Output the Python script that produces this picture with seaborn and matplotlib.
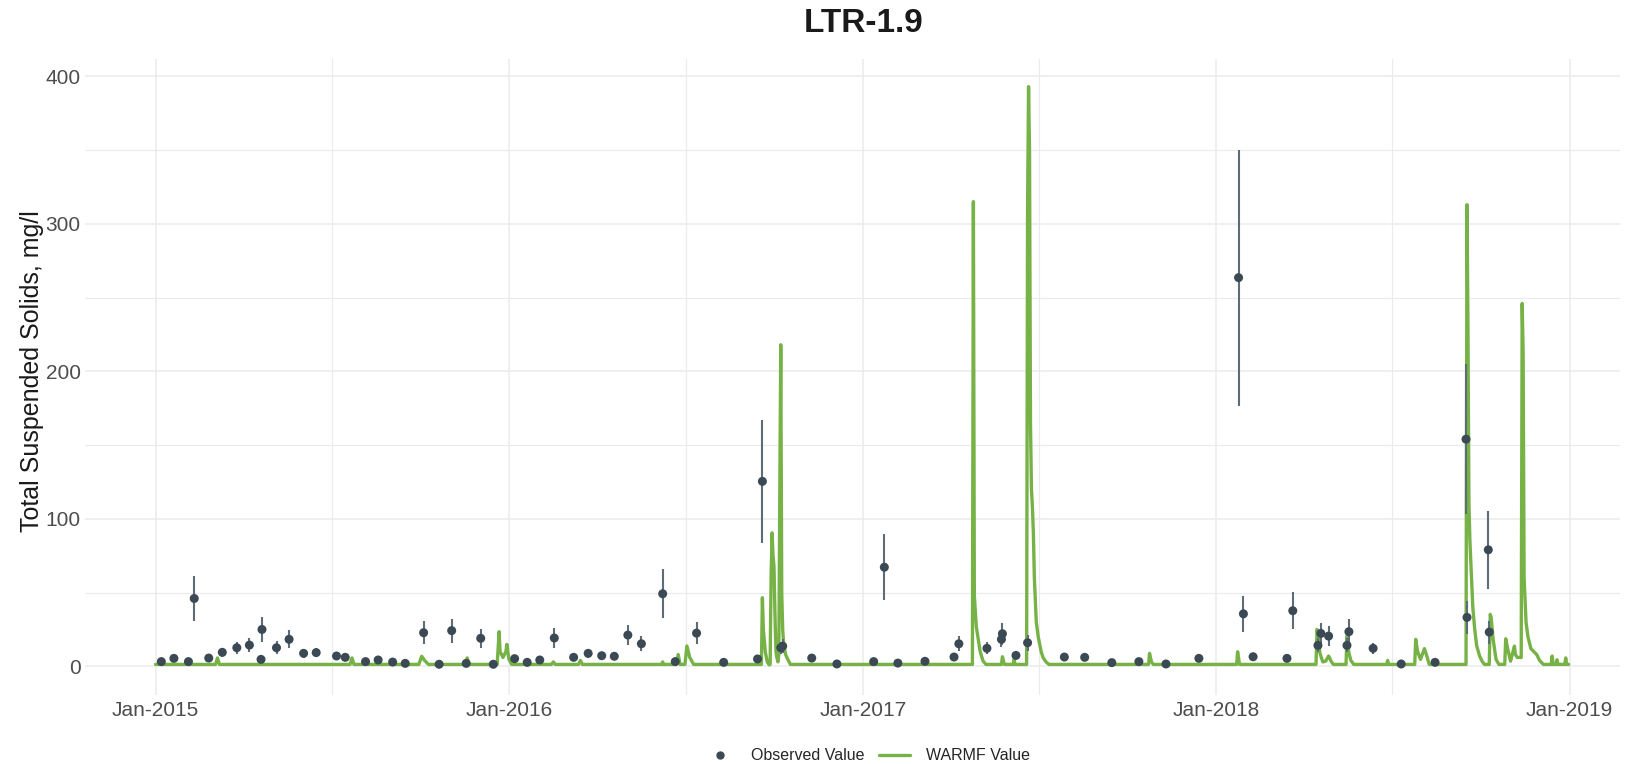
import matplotlib
matplotlib.use("Agg")
import matplotlib.pyplot as plt
import matplotlib.dates as mdates
from matplotlib.lines import Line2D
import pandas as pd
import seaborn as sns

# ---- observed samples (date, value, half-width of the uncertainty bar) ----
obs_dates = [
    "2015-01-07", "2015-01-20", "2015-02-04", "2015-02-10", "2015-02-25", "2015-03-11",
    "2015-03-26", "2015-04-08", "2015-04-21", "2015-04-20", "2015-05-06", "2015-05-19",
    "2015-06-03", "2015-06-16", "2015-07-07", "2015-07-16", "2015-08-06", "2015-08-19",
    "2015-09-03", "2015-09-16", "2015-10-05", "2015-10-21", "2015-11-03", "2015-11-18",
    "2015-12-03", "2015-12-16",
    "2016-01-07", "2016-01-20", "2016-02-02", "2016-02-17", "2016-03-08", "2016-03-23",
    "2016-04-06", "2016-04-19", "2016-05-03", "2016-05-17", "2016-06-08", "2016-06-21",
    "2016-07-13", "2016-08-10", "2016-09-14", "2016-09-19", "2016-10-08", "2016-10-10",
    "2016-11-09", "2016-12-05",
    "2017-01-12", "2017-01-23", "2017-02-06", "2017-03-06", "2017-04-05", "2017-04-10",
    "2017-05-09", "2017-05-24", "2017-05-25", "2017-06-08", "2017-06-20", "2017-07-28",
    "2017-08-18", "2017-09-15", "2017-10-13", "2017-11-10", "2017-12-14",
    "2018-01-24", "2018-01-29", "2018-02-08", "2018-03-15", "2018-03-21", "2018-04-16",
    "2018-04-19", "2018-04-27", "2018-05-16", "2018-05-18", "2018-06-12", "2018-07-11",
    "2018-08-15", "2018-09-16", "2018-09-17", "2018-10-09", "2018-10-10",
]
obs_values = [
    3.2, 5.4, 3.2, 46, 5.6, 9.5, 12.6, 14.4, 25, 4.7, 12.6, 18.3, 8.8, 9.3, 7, 6.1,
    3.2, 4.3, 2.9, 2.0, 22.8, 1.4, 24.2, 2.0, 19, 1.4,
    5.2, 2.7, 4.3, 19.2, 6.1, 8.8, 7.2, 6.8, 21.2, 15.3, 49.2, 3.2, 22.5, 2.7, 5,
    125.4, 12.6, 13.7, 5.6, 1.6,
    3.2, 67.2, 2.2, 3.4, 6.3, 15.3, 12.2, 18.3, 22.1, 7.4, 16, 6.3, 6.1, 2.5, 3.2, 1.6, 5.4,
    263.5, 35.6, 6.5, 5.4, 37.7, 14.2, 22.3, 20.5, 14.2, 23.5, 12.2, 1.6, 2.7, 154, 33.2, 79, 23.2,
]
obs_err = [
    1.1, 1.8, 1.1, 15.5, 1.9, 3, 4.2, 4.8, 8.5, 1.6, 4.3, 6.2, 3, 3.1, 2.3, 2,
    1.1, 1.4, 1, 0.7, 7.7, 0.5, 8.2, 0.7, 6.4, 0.5,
    1.7, 0.9, 1.4, 6.5, 2, 2.9, 2.4, 2.3, 7, 5, 16.5, 1.1, 7.5, 0.9, 1.7,
    41.5, 4.2, 4.6, 1.9, 0.5,
    1.1, 22.2, 0.7, 1.1, 2.1, 5, 4, 5, 7.5, 2.5, 5.5, 2.1, 2, 0.8, 1.1, 0.5, 1.8,
    86.7, 12, 2.2, 1.8, 12.6, 4.7, 7.3, 6.8, 4.7, 8.3, 3.7, 0.5, 0.9, 51, 11, 26.5, 7.8,
]

# ---- WARMF simulated series (vertices of the daily trace) ----
warmf_dates = [
    "2015-01-01",
    "2015-03-04", "2015-03-06", "2015-03-08",
    "2015-07-21", "2015-07-23", "2015-07-25",
    "2015-09-30", "2015-10-03", "2015-10-06", "2015-10-10",
    "2015-11-17", "2015-11-19", "2015-11-21",
    "2015-12-20", "2015-12-22", "2015-12-23", "2015-12-26", "2015-12-29", "2015-12-30",
    "2016-01-01", "2016-01-04",
    "2016-02-14", "2016-02-16", "2016-02-18",
    "2016-03-13", "2016-03-15", "2016-03-17",
    "2016-06-07", "2016-06-08", "2016-06-09",
    "2016-06-22", "2016-06-24", "2016-06-26",
    "2016-07-01", "2016-07-03", "2016-07-06", "2016-07-10",
    "2016-09-18", "2016-09-19", "2016-09-20", "2016-09-22", "2016-09-24", "2016-09-26",
    "2016-09-27", "2016-09-28", "2016-09-29", "2016-09-30", "2016-10-01", "2016-10-02",
    "2016-10-03", "2016-10-04", "2016-10-05", "2016-10-06", "2016-10-07", "2016-10-08",
    "2016-10-09", "2016-10-10", "2016-10-11", "2016-10-13", "2016-10-15", "2016-10-18",
    "2017-04-24", "2017-04-25", "2017-04-26", "2017-04-28", "2017-05-02", "2017-05-05",
    "2017-05-08",
    "2017-05-24", "2017-05-25", "2017-05-27",
    "2017-06-05", "2017-06-06", "2017-06-07",
    "2017-06-19", "2017-06-20", "2017-06-21", "2017-06-22", "2017-06-23", "2017-06-24",
    "2017-06-25", "2017-06-26", "2017-06-27", "2017-06-29", "2017-07-01", "2017-07-04",
    "2017-07-06", "2017-07-09", "2017-07-12",
    "2017-10-23", "2017-10-24", "2017-10-26", "2017-10-28",
    "2018-01-22", "2018-01-23", "2018-01-25",
    "2018-04-14", "2018-04-15", "2018-04-16", "2018-04-18", "2018-04-21", "2018-04-24",
    "2018-04-27", "2018-04-30", "2018-05-02",
    "2018-05-15", "2018-05-16", "2018-05-18", "2018-05-20", "2018-05-23",
    "2018-06-26", "2018-06-27", "2018-06-28",
    "2018-07-25", "2018-07-26", "2018-07-28", "2018-07-31", "2018-08-04", "2018-08-06",
    "2018-08-09",
    "2018-09-16", "2018-09-17", "2018-09-18", "2018-09-19", "2018-09-20", "2018-09-21",
    "2018-09-23", "2018-09-25", "2018-09-27", "2018-09-30", "2018-10-03", "2018-10-05",
    "2018-10-10", "2018-10-11", "2018-10-12", "2018-10-14", "2018-10-17", "2018-10-20",
    "2018-10-26", "2018-10-27", "2018-10-29", "2018-11-01", "2018-11-05", "2018-11-06",
    "2018-11-08", "2018-11-12", "2018-11-13", "2018-11-14", "2018-11-15", "2018-11-17",
    "2018-11-19", "2018-11-22", "2018-11-25", "2018-11-28", "2018-12-01", "2018-12-05",
    "2018-12-13", "2018-12-14", "2018-12-15",
    "2018-12-18", "2018-12-19", "2018-12-20",
    "2018-12-27", "2018-12-28", "2018-12-29", "2018-12-31",
]
warmf_values = [
    1.3,
    1.3, 5.7, 1.3,
    1.3, 5.7, 1.3,
    1.3, 6.8, 4.0, 1.3,
    1.3, 5.7, 1.3,
    1.3, 23.5, 10, 6, 10, 14.9,
    5, 1.3,
    1.3, 3, 1.3,
    1.3, 4, 1.3,
    1.3, 3, 1.3,
    1.3, 8, 1.3,
    1.3, 13.8, 6, 1.3,
    1.3, 46.5, 25, 10, 3, 1.0,
    1.3, 61, 90.5, 75, 68, 35,
    10, 6, 3, 8, 120, 218,
    50, 25, 15, 8, 5, 1.3,
    1.3, 315, 48, 27, 10, 3.6,
    1.3,
    1.3, 6.5, 1.3,
    1.3, 4.7, 1.3,
    1.3, 312, 393, 350, 165, 120,
    108, 90, 60, 30, 20, 10,
    6, 3, 1.3,
    1.3, 8.8, 3, 1.3,
    1.3, 9.9, 1.3,
    1.3, 25, 22, 9, 3, 3.5,
    7, 3, 1.3,
    1.3, 20.5, 9, 4, 1.3,
    1.3, 4, 1.3,
    1.3, 18.3, 10, 4.7, 12, 8,
    1.3,
    1.3, 313, 228, 110, 85, 70,
    40, 25, 14, 7, 3, 1.3,
    1.3, 35.2, 33, 18.3, 4.7, 1.3,
    1.3, 18.7, 12, 3.5, 13.7, 8,
    6, 6, 246, 212, 60, 30,
    20, 12, 10, 8, 4, 1.3,
    1.3, 7, 1.3,
    1.3, 4.5, 1.3,
    1.3, 5.7, 1.3, 1.3,
]

year_ticks = ["2015-01-01", "2016-01-01", "2017-01-01", "2018-01-01", "2019-01-01"]
mid_year_ticks = ["2015-07-02", "2016-07-02", "2017-07-02", "2018-07-02"]
y_ticks = [0, 100, 200, 300, 400]
y_minor_ticks = [50, 150, 250, 350]

GREEN = "#77b246"
POINT = "#3b4954"
BAR = "#5e6c76"
GRID = "#ebebeb"

obs = pd.DataFrame({"date": pd.to_datetime(obs_dates), "value": obs_values, "err": obs_err})
sim = pd.DataFrame({"date": pd.to_datetime(warmf_dates), "value": warmf_values})

sns.set_theme(style="white")
plt.rcParams["font.family"] = ["Liberation Sans", "DejaVu Sans"]

fig = plt.figure(figsize=(16.32, 7.64), dpi=100)
ax = fig.add_axes([0.052, 0.090, 0.9406, 0.8325])

sns.lineplot(data=sim, x="date", y="value", ax=ax, color=GREEN, linewidth=2.4,
             sort=True, estimator=None, zorder=2, legend=False)
ax.errorbar(obs["date"], obs["value"], yerr=obs["err"], fmt="none",
            ecolor=BAR, elinewidth=1.5, capsize=0, zorder=3)
sns.scatterplot(data=obs, x="date", y="value", ax=ax, color=POINT, s=42,
                edgecolor="none", zorder=4, legend=False)

ax.set_xlim(pd.Timestamp("2014-10-20"), pd.Timestamp("2019-02-22"))
ax.set_ylim(-19.6, 411.6)

ax.set_xticks(pd.to_datetime(year_ticks))
ax.xaxis.set_major_formatter(mdates.DateFormatter("%b-%Y"))
ax.set_xticks(pd.to_datetime(mid_year_ticks), minor=True)
ax.set_yticks(y_ticks)
ax.set_yticks(y_minor_ticks, minor=True)

ax.grid(True, which="major", color=GRID, linewidth=1.1)
ax.grid(True, which="minor", color=GRID, linewidth=0.8)
ax.set_axisbelow(True)
for s in ax.spines.values():
    s.set_visible(False)
ax.tick_params(axis="both", which="both", length=0, labelsize=15, labelcolor="#4d4d4d")
ax.tick_params(axis="x", pad=4)
ax.tick_params(axis="y", pad=3)

ax.set_xlabel("")
ax.set_ylabel("")
fig.text(0.0195, 0.090 + 0.8325 * (19.6 + 200) / 431.2, "Total Suspended Solids, mg/l",
         rotation=90, ha="center", va="center", fontsize=18, color="#1a1a1a")

fig.text(0.529, 0.969, "LTR-1.9", ha="center", va="center", fontsize=24,
         fontweight="bold", color="#1a1a1a")

handles = [
    Line2D([], [], marker="o", linestyle="none", color=POINT, markersize=5),
    Line2D([], [], color=GREEN, linewidth=2.4),
]
fig.legend(handles, ["Observed Value", "WARMF Value"], loc="center",
           bbox_to_anchor=(0.5315, 0.011), ncol=2, frameon=False, fontsize=11.5,
           handlelength=1.9, columnspacing=0.9, handletextpad=1.0)

fig.savefig("out.png", dpi=100, facecolor="white")
